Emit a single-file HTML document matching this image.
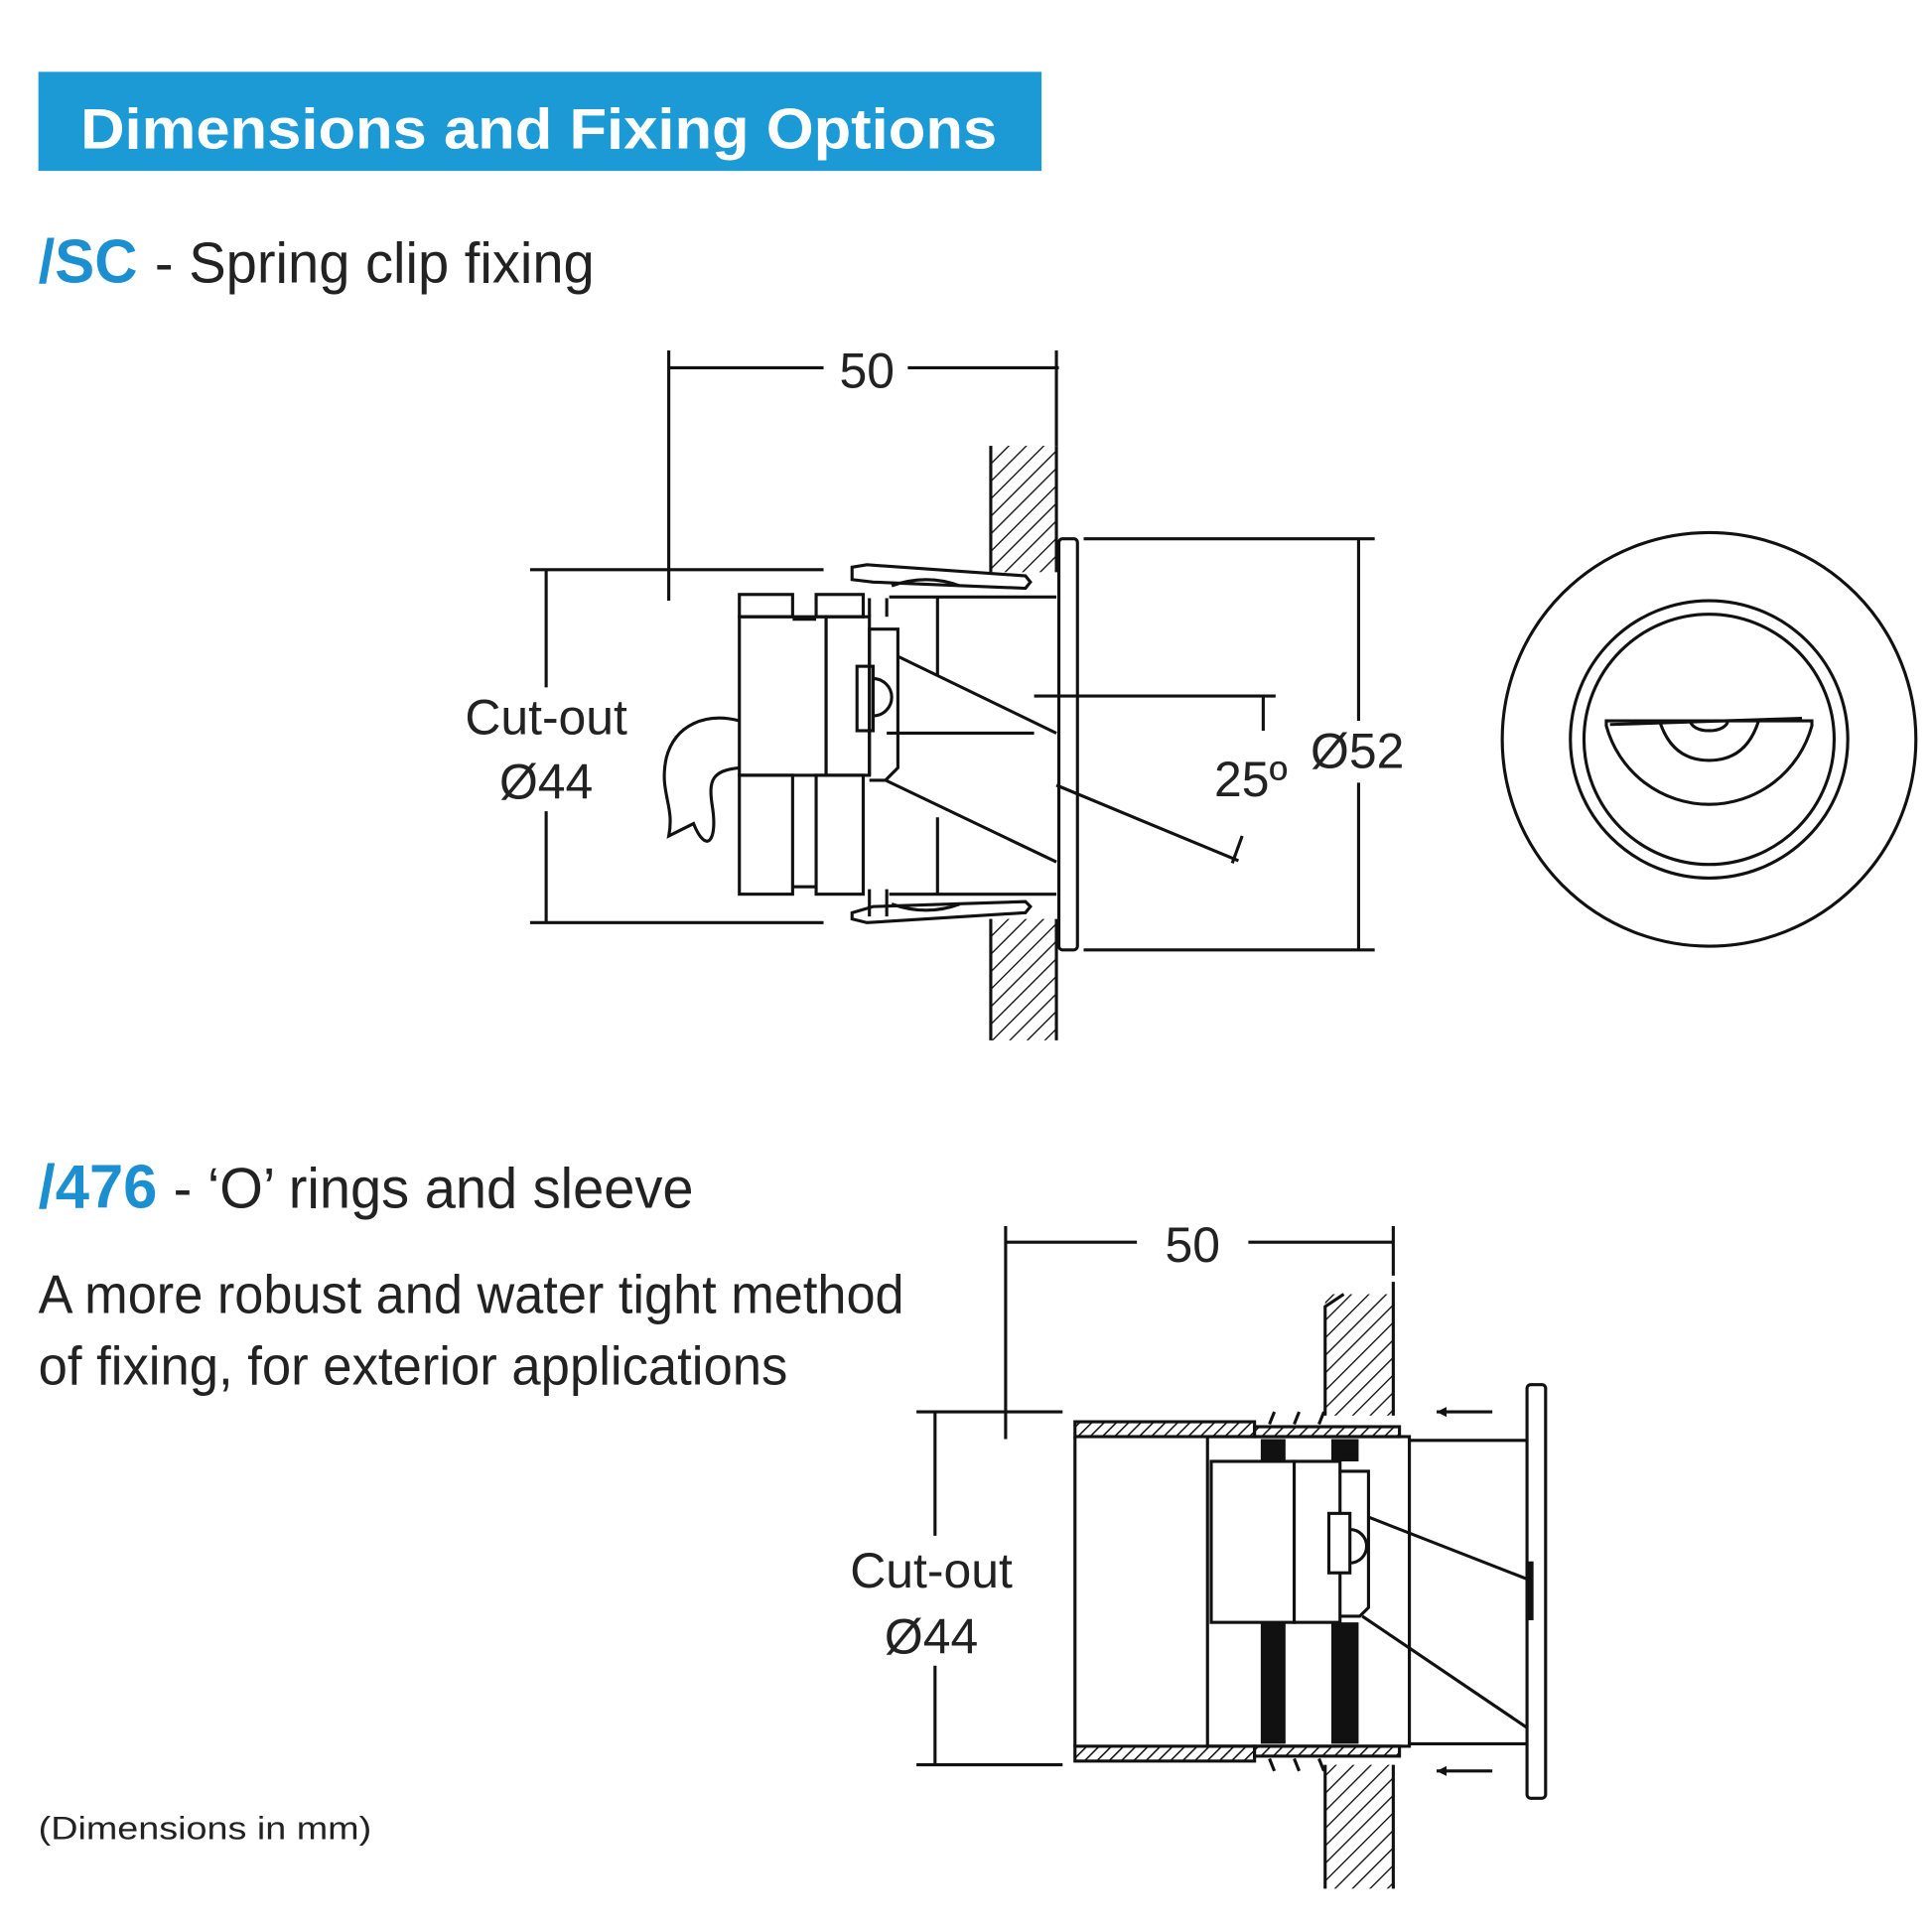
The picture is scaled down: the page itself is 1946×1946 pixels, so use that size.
<!DOCTYPE html>
<html><head><meta charset="utf-8"><style>html,body{margin:0;padding:0;background:#fff}svg{display:block}</style></head>
<body>
<svg width="1946" height="1946" viewBox="0 0 1560 1560" xmlns="http://www.w3.org/2000/svg" font-family="Liberation Sans, sans-serif">
<defs>
<pattern id="h" width="10" height="10" patternUnits="userSpaceOnUse" patternTransform="rotate(45)">
<rect width="10" height="10" fill="#fff"/><line x1="0" y1="0" x2="0" y2="10" stroke="#111" stroke-width="2.2"/></pattern>
<pattern id="h2" width="7" height="7" patternUnits="userSpaceOnUse" patternTransform="rotate(45)">
<rect width="7" height="7" fill="#fff"/><line x1="0" y1="0" x2="0" y2="7" stroke="#111" stroke-width="2.5"/></pattern>
</defs>
<rect x="31" y="58" width="810" height="80" fill="#1b9ad6"/>
<text x="65" y="120" font-size="46" font-weight="bold" fill="#fff" textLength="740" lengthAdjust="spacingAndGlyphs">Dimensions and Fixing Options</text>
<text x="31" y="228" font-size="50" font-weight="bold" fill="#1b8fcf" textLength="80" lengthAdjust="spacingAndGlyphs">/SC</text>
<text x="125" y="228" font-size="46" fill="#222" textLength="355" lengthAdjust="spacingAndGlyphs">- Spring clip fixing</text>
<text x="31" y="975" font-size="50" font-weight="bold" fill="#1b8fcf" textLength="96" lengthAdjust="spacingAndGlyphs">/476</text>
<text x="140" y="975" font-size="46" fill="#222" textLength="420" lengthAdjust="spacingAndGlyphs">- ‘O’ rings and sleeve</text>
<text x="31" y="1060" font-size="44" fill="#222" textLength="699" lengthAdjust="spacingAndGlyphs">A more robust and water tight method</text>
<text x="31" y="1118" font-size="44" fill="#222" textLength="605" lengthAdjust="spacingAndGlyphs">of fixing, for exterior applications</text>
<text x="31" y="1485" font-size="26" fill="#222" textLength="269" lengthAdjust="spacingAndGlyphs">(Dimensions in mm)</text>

<g stroke="#111" stroke-width="2.5" fill="none">
<line x1="540" y1="297" x2="665" y2="297"/><line x1="733" y1="297" x2="855" y2="297"/>
<line x1="540" y1="283" x2="540" y2="485"/><line x1="853" y1="283" x2="853" y2="360"/>
<rect x="800" y="360" width="53" height="102" fill="url(#h)" stroke="none"/>
<rect x="800" y="742" width="53" height="98" fill="url(#h)" stroke="none"/>
<path d="M800 462 V360 M800 742 V840 M853 360 V462 M853 742 V840"/>
<rect x="855" y="435" width="15" height="332" rx="3" fill="#fff"/>
<line x1="875" y1="435" x2="1110" y2="435"/><line x1="875" y1="767" x2="1110" y2="767"/>
<line x1="1097" y1="435" x2="1097" y2="582"/><line x1="1097" y1="632" x2="1097" y2="767"/>
<line x1="428" y1="460" x2="665" y2="460"/><line x1="428" y1="745" x2="665" y2="745"/>
<line x1="441" y1="460" x2="441" y2="555"/><line x1="441" y1="655" x2="441" y2="745"/>
<rect x="597" y="480" width="43" height="18"/><rect x="659" y="480" width="38" height="18"/>
<rect x="597" y="498" width="70" height="128"/><rect x="667" y="498" width="35" height="128"/>
<rect x="597" y="626" width="43" height="96"/><rect x="659" y="626" width="38" height="96"/>
<line x1="640" y1="500" x2="659" y2="500"/><line x1="640" y1="716" x2="659" y2="716"/>
<path d="M702 626 V508 H725 V620 L715 630 H702"/>
<rect x="692" y="538" width="13" height="52"/>
<path d="M705 548 A15 15 0 0 1 705 578"/>
<line x1="716" y1="592" x2="835" y2="592"/><line x1="725" y1="530" x2="853" y2="592"/>
<line x1="715" y1="630" x2="853" y2="696"/>
<line x1="757" y1="483" x2="757" y2="545"/><line x1="757" y1="660" x2="757" y2="722"/>
<line x1="718" y1="482" x2="853" y2="482"/><line x1="718" y1="722" x2="853" y2="722"/>
<line x1="702" y1="483" x2="702" y2="498"/><line x1="716" y1="483" x2="716" y2="498"/>
<line x1="702" y1="718" x2="702" y2="740"/><line x1="716" y1="718" x2="716" y2="740"/>
<path d="M688 458 L700 456 L828 465 L832 470 L828 475 L705 470 L688 468 Z"/>
<path d="M720 473 Q748 463 775 473"/>
<path d="M688 742 L700 745 L828 737 L832 732 L828 728 L705 732 L688 737 Z"/>
<path d="M720 730 Q748 740 775 730"/>
<path d="M597 582 C570 575 545 585 538 612 C532 640 545 650 540 675 L560 665 C570 690 580 680 575 650 C572 630 575 622 597 620"/>
<line x1="835" y1="562" x2="1030" y2="562"/>
<line x1="1020" y1="562" x2="1020" y2="590"/>
<line x1="853" y1="634" x2="1000" y2="695"/>
<line x1="1003" y1="675" x2="995" y2="697"/>
<circle cx="1380" cy="597" r="167"/>
<circle cx="1380" cy="597" r="112"/>
<circle cx="1380" cy="597" r="101"/>
<path d="M1297 582 L1463 582 L1463 586 A86 86 0 0 1 1297 586 Z"/>
<path d="M1300 585 L1455 580"/>
<path d="M1340 582 Q1350 614 1380 614 Q1410 614 1420 582"/>
<path d="M1365 582 A15 8 0 0 0 1395 582"/>

<line x1="812" y1="1003" x2="918" y2="1003"/><line x1="1008" y1="1003" x2="1125" y2="1003"/>
<line x1="812" y1="990" x2="812" y2="1162"/><line x1="1125" y1="990" x2="1125" y2="1030"/>
<line x1="740" y1="1140" x2="858" y2="1140"/><line x1="740" y1="1425" x2="858" y2="1425"/>
<line x1="755" y1="1140" x2="755" y2="1240"/><line x1="755" y1="1345" x2="755" y2="1425"/>
<rect x="1070" y="1045" width="55" height="98" fill="url(#h)" stroke="none"/>
<rect x="1070" y="1425" width="55" height="100" fill="url(#h)" stroke="none"/>
<path d="M1070 1143 V1055 L1085 1045 M1125 1035 V1143 M1070 1425 V1525 M1125 1425 V1525"/>
<rect x="868" y="1148" width="145" height="12" fill="url(#h2)"/>
<rect x="1013" y="1152" width="117" height="8" fill="url(#h2)"/>
<rect x="868" y="1410" width="145" height="12" fill="url(#h2)"/>
<rect x="1013" y="1410" width="117" height="8" fill="url(#h2)"/>
<line x1="868" y1="1160" x2="868" y2="1410"/>
<path d="M1025 1150 l4 -10 M1045 1150 l4 -10 M1065 1150 l4 -10 M1025 1420 l4 10 M1045 1420 l4 10 M1065 1420 l4 10"/>
<rect x="975" y="1160" width="163" height="250"/>
<line x1="1138" y1="1163" x2="1233" y2="1163"/><line x1="1138" y1="1408" x2="1233" y2="1408"/>
<rect x="1233" y="1118" width="15" height="334" rx="3" fill="#fff"/>
<rect x="1233" y="1262" width="4" height="45" fill="#111"/>
<rect x="978" y="1180" width="67" height="130" fill="#fff"/><rect x="1045" y="1180" width="37" height="130" fill="#fff"/>
<path d="M1082 1188 H1105 V1298 L1098 1305 H1082"/>
<rect x="1073" y="1222" width="17" height="48" fill="#fff"/>
<path d="M1090 1235 A12 12 0 0 1 1090 1262"/>
<line x1="1105" y1="1225" x2="1233" y2="1275"/><line x1="1100" y1="1305" x2="1233" y2="1395"/>
<path d="M1160 1140 H1205 M1160 1430 H1205"/>
</g>
<g fill="#111">
<rect x="1018" y="1162" width="20" height="18"/><rect x="1075" y="1162" width="22" height="18"/>
<rect x="1018" y="1310" width="20" height="98"/><rect x="1075" y="1310" width="22" height="98"/>
<path d="M1160 1140 l8 -4 v8 Z M1160 1430 l8 -4 v8 Z"/>
</g>
<g fill="#222" font-size="40" text-anchor="middle">
<text x="700" y="313">50</text>
<text x="441" y="593">Cut-out</text>
<text x="441" y="645">Ø44</text>
<text x="1096" y="620">Ø52</text>
<text x="1010" y="643">25º</text>
<text x="963" y="1019">50</text>
<text x="752" y="1282">Cut-out</text>
<text x="752" y="1335">Ø44</text>
</g>
</svg>
</body></html>
